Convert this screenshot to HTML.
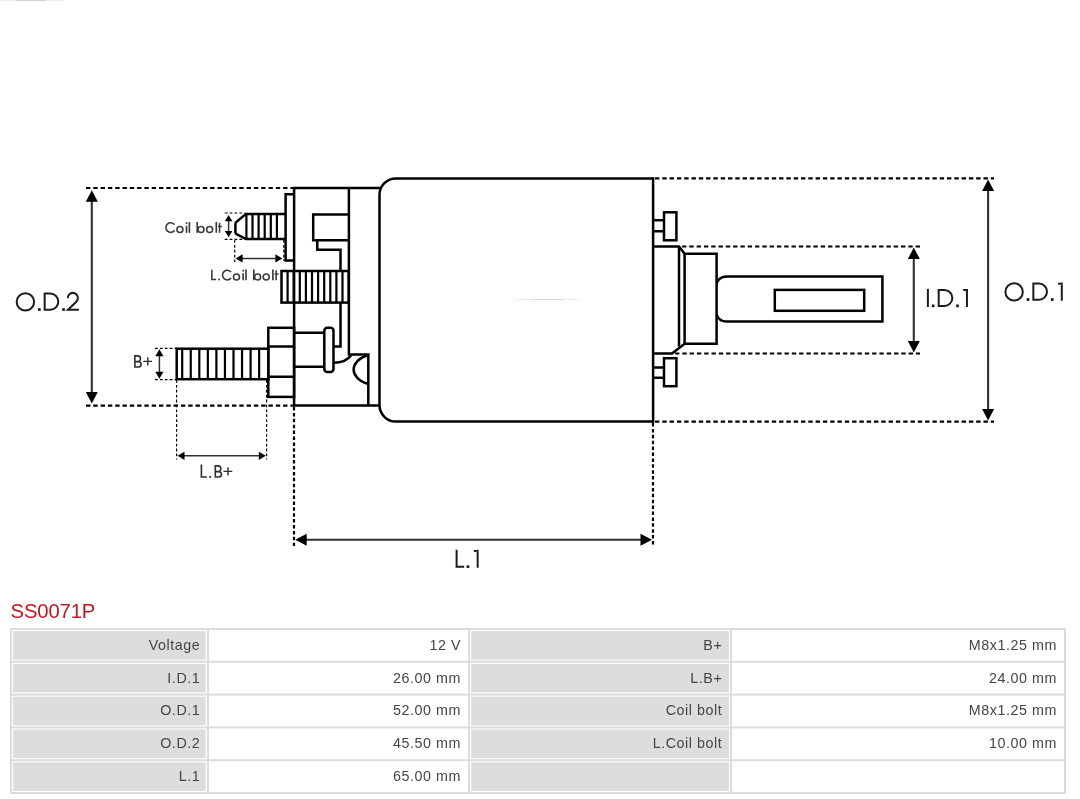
<!DOCTYPE html>
<html>
<head>
<meta charset="utf-8">
<title>SS0071P</title>
<style>
html,body{margin:0;padding:0;background:#fff;}
body{width:1080px;height:799px;position:relative;overflow:hidden;font-family:"Liberation Sans",sans-serif;}
#dia{position:absolute;left:0;top:0;width:1080px;height:799px;will-change:transform;}
</style>
</head>
<body>
<svg id="dia" width="1080" height="799" viewBox="0 0 1080 799">
<!--DS-->
<!-- faint artefact lines -->
<path d="M0 0.5 H64" stroke="#d8d8d8" stroke-width="1" stroke-dasharray="1 1" fill="none"/>
<path d="M16 0.5 H47" stroke="#d0d0d0" stroke-width="1" fill="none"/>
<path d="M516 299.5 H580" stroke="#dcdcdc" stroke-width="1" stroke-dasharray="1 1" fill="none"/>
<path d="M533 299.5 H563" stroke="#d6d6d6" stroke-width="1" fill="none"/>

<!-- thick dashed extension lines -->
<g fill="none" stroke="#000" stroke-width="2.2" stroke-dasharray="4.4 2.9">
<path d="M86 188 H293"/>
<path d="M86 405.6 H293"/>
<path d="M655 178.4 H994"/>
<path d="M655 421.6 H994"/>
<path d="M682 246.5 H920"/>
<path d="M675 353.5 H920"/>
</g>
<g fill="none" stroke="#000" stroke-width="2.2" stroke-dasharray="3.5 2.4">
<path d="M294 407 V546"/>
<path d="M653 423 V546"/>
</g>
<!-- thin dotted lines -->
<g fill="none" stroke="#000" stroke-width="1.2" stroke-dasharray="2.8 2.1">
<path d="M224.7 213 H245"/>
<path d="M224.7 239.4 H245"/>
<path d="M234.7 240 V262"/>
<path d="M283.8 240 V261"/>
<path d="M155 348.3 H176"/>
<path d="M155 379.6 H176"/>
<path d="M176.6 380 V459.5"/>
<path d="M266.6 380 V459.5"/>
</g>

<!-- main outlines -->
<g fill="none" stroke="#000" stroke-width="2.5" stroke-linejoin="miter" stroke-linecap="butt">
<path d="M653.1 177.2 V422.8"/>
<path d="M653.1 178.4 H396 A16.5 16.5 0 0 0 379.5 194.9 V405.1 A16.5 16.5 0 0 0 396 421.6 H653.1"/>
<!-- left box -->
<path d="M380 188 H294.1 V405.6 H380"/>
<path d="M348.9 188 V354.6 H368.3 V405.6"/>
<!-- plate -->
<path d="M294.1 194.2 H285.6 V260.4 H294.1"/>
<!-- coil bolt -->
<path d="M285.6 213.9 H246 L236.6 221.8 Q235.4 222.7 235.4 224.2 V231.9 Q235.4 233.4 236.6 234.1 L246 239 H285.6"/>
<path d="M246.4 213.9 V239 M252.5 213.9 V239 M258.6 213.9 V239 M264.7 213.9 V239 M270.8 213.9 V239 M276.9 213.9 V239" stroke-width="2.2"/>
<!-- inner rect + step -->
<path d="M348.9 214.4 H313.2 V240.3 H348.9"/>
<path d="M317.3 240.3 V249.7 H340.5 V271"/>
<!-- L coil thread block -->
<rect x="281.5" y="271" width="67.2" height="31.6"/>
<path d="M287.6 271 V302.6 M293.7 271 V302.6 M299.8 271 V302.6 M305.9 271 V302.6 M312 271 V302.6 M318.1 271 V302.6 M324.2 271 V302.6 M330.3 271 V302.6 M336.4 271 V302.6 M342.5 271 V302.6" stroke-width="2.2"/>
<!-- wire down -->
<path d="M340.5 302.6 V346.4 H333.4"/>
<!-- nut -->
<rect x="268.3" y="327.8" width="25.8" height="69.1"/>
<path d="M268.3 346.4 H294.1 M268.3 376.7 H294.1"/>
<!-- B+ bolt -->
<rect x="176.7" y="348.7" width="91.6" height="30.5"/>
<path d="M182.2 348.7 V379.2 M190.75 348.7 V379.2 M199.3 348.7 V379.2 M207.85 348.7 V379.2 M216.4 348.7 V379.2 M224.95 348.7 V379.2 M233.5 348.7 V379.2 M242.05 348.7 V379.2 M250.6 348.7 V379.2 M259.15 348.7 V379.2" stroke-width="2.2"/>
<!-- cylinder + flange -->
<path d="M294.1 332.7 H324.3 M294.1 366.7 H324.3"/>
<rect x="324.3" y="327.8" width="9.2" height="44.2" rx="3" ry="3"/>
<path d="M333.5 362.8 Q346 362.8 351.3 355"/>
<path d="M368.3 355 C358.5 358 353.6 364 353.6 369.6 C353.6 375.2 358.5 381 368.3 384"/>
<!-- right terminals -->
<path d="M653.1 220.2 H664 M653.1 231.3 H664"/>
<rect x="664" y="212.3" width="12.4" height="28"/>
<path d="M653.1 367.4 H664 M653.1 377.7 H664"/>
<rect x="664" y="358.2" width="12.4" height="28"/>
<!-- collar -->
<path d="M653.1 246.5 H679 L684.6 253.8 H716.6 V343.8 H684.6 L672 353.5 H653.1"/>
<path d="M679 246.5 V346.5 M684.6 253.8 V343.8"/>
<!-- shaft -->
<path d="M716.6 283.5 A10.6 10.6 0 0 1 726.5 276.5 H882.4 V321.6 H726.5 A10.6 10.6 0 0 1 716.6 314.6"/>
<rect x="774.8" y="289.9" width="89.4" height="20.9"/>
</g>

<!-- dimension arrows -->
<g fill="none" stroke="#303030" stroke-width="2.1">
<path d="M91.8 197 V397"/>
<path d="M988.1 187 V413"/>
<path d="M913.8 254 V345"/>
<path d="M302 539.8 H645"/>
</g>
<g fill="#000" stroke="none">
<path d="M0 0 L6 11.5 L-6 11.5 Z" transform="translate(91.8 190.2)"/>
<path d="M0 0 L6 11.5 L-6 11.5 Z" transform="translate(91.8 403.4) scale(1 -1)"/>
<path d="M0 0 L6 11.5 L-6 11.5 Z" transform="translate(988.1 179.6)"/>
<path d="M0 0 L6 11.5 L-6 11.5 Z" transform="translate(988.1 420.4) scale(1 -1)"/>
<path d="M0 0 L6 11.5 L-6 11.5 Z" transform="translate(913.8 247.6)"/>
<path d="M0 0 L6 11.5 L-6 11.5 Z" transform="translate(913.8 352.4) scale(1 -1)"/>
<path d="M0 0 L6 11.5 L-6 11.5 Z" transform="translate(295.2 539.8) rotate(-90)"/>
<path d="M0 0 L6 11.5 L-6 11.5 Z" transform="translate(652 539.8) rotate(90)"/>
</g>
<g fill="none" stroke="#333" stroke-width="1.5">
<path d="M228.6 219 V233"/>
<path d="M241 258.4 H277"/>
<path d="M159.4 354 V374"/>
<path d="M183 455.8 H260"/>
</g>
<g fill="#000" stroke="none">
<path d="M0 0 L3.8 6.2 L-3.8 6.2 Z" transform="translate(228.6 215.1)"/>
<path d="M0 0 L3.8 6.2 L-3.8 6.2 Z" transform="translate(228.6 237.2) scale(1 -1)"/>
<path d="M0 0 L4.1 7 L-4.1 7 Z" transform="translate(235.6 258.4) rotate(-90)"/>
<path d="M0 0 L4.1 7 L-4.1 7 Z" transform="translate(282.4 258.4) rotate(90)"/>
<path d="M0 0 L4.1 7 L-4.1 7 Z" transform="translate(159.4 349.3)"/>
<path d="M0 0 L4.1 7 L-4.1 7 Z" transform="translate(159.4 378.7) scale(1 -1)"/>
<path d="M0 0 L4.1 7 L-4.1 7 Z" transform="translate(177.5 455.8) rotate(-90)"/>
<path d="M0 0 L4.1 7 L-4.1 7 Z" transform="translate(265.8 455.8) rotate(90)"/>
</g>
<g stroke-linecap="butt" stroke-linejoin="miter">
<circle cx="25.40" cy="301.90" r="8.70" fill="none" stroke="#1c1c1c" stroke-width="2.0"/>
<rect x="38.00" y="308.20" width="2.70" height="2.70" fill="#1c1c1c"/>
<path d="M44.65 310.70 V292.60 M44.65 293.60 H50.25 A8.05 8.05 0 0 1 50.25 309.70 H44.65" fill="none" stroke="#1c1c1c" stroke-width="2.0"/>
<rect x="62.20" y="308.20" width="2.70" height="2.70" fill="#1c1c1c"/>
<path d="M67.70 298.18 A5.1 5.1 0 1 1 76.32 301.70 L67.90 309.70 H78.90" fill="none" stroke="#1c1c1c" stroke-width="2.0"/>
<circle cx="1014.10" cy="291.90" r="8.70" fill="none" stroke="#1c1c1c" stroke-width="2.0"/>
<rect x="1026.70" y="298.20" width="2.70" height="2.70" fill="#1c1c1c"/>
<path d="M1033.35 300.70 V282.60 M1033.35 283.60 H1038.95 A8.05 8.05 0 0 1 1038.95 299.70 H1033.35" fill="none" stroke="#1c1c1c" stroke-width="2.0"/>
<rect x="1050.90" y="298.20" width="2.70" height="2.70" fill="#1c1c1c"/>
<path d="M1058.00 283.80 L1062.80 283.60 M1061.80 282.60 V300.70" fill="none" stroke="#1c1c1c" stroke-width="2.0"/>
<path d="M927.90 288.90 V307.00" fill="none" stroke="#1c1c1c" stroke-width="2.0"/>
<rect x="931.80" y="304.50" width="2.70" height="2.70" fill="#1c1c1c"/>
<path d="M938.70 307.00 V288.90 M938.70 289.90 H944.30 A8.05 8.05 0 0 1 944.30 306.00 H938.70" fill="none" stroke="#1c1c1c" stroke-width="2.0"/>
<rect x="956.10" y="304.50" width="2.70" height="2.70" fill="#1c1c1c"/>
<path d="M963.15 290.10 L967.95 289.90 M966.95 288.90 V307.00" fill="none" stroke="#1c1c1c" stroke-width="2.0"/>
<path d="M456.60 549.70 V566.80 H464.20" fill="none" stroke="#1c1c1c" stroke-width="2.0"/>
<rect x="466.60" y="565.30" width="2.70" height="2.70" fill="#1c1c1c"/>
<path d="M473.85 550.90 L478.65 550.70 M477.65 549.70 V567.80" fill="none" stroke="#1c1c1c" stroke-width="2.0"/>
<path d="M174.48 224.64 A4.8 4.8 0 1 0 174.48 230.56" fill="none" stroke="#3a3a3a" stroke-width="1.55"/>
<circle cx="179.90" cy="229.40" r="3.00" fill="none" stroke="#3a3a3a" stroke-width="1.55"/>
<path d="M186.50 225.70 V232.80" fill="none" stroke="#3a3a3a" stroke-width="1.6500000000000001"/>
<rect x="185.70" y="222.30" width="1.65" height="1.70" fill="#3a3a3a"/>
<path d="M189.40 222.00 V232.80" fill="none" stroke="#3a3a3a" stroke-width="1.6500000000000001"/>
<path d="M197.20 222.00 V232.80" fill="none" stroke="#3a3a3a" stroke-width="1.6500000000000001"/>
<circle cx="201.00" cy="229.40" r="3.00" fill="none" stroke="#3a3a3a" stroke-width="1.55"/>
<circle cx="209.60" cy="229.40" r="3.00" fill="none" stroke="#3a3a3a" stroke-width="1.55"/>
<path d="M216.30 222.00 V232.80" fill="none" stroke="#3a3a3a" stroke-width="1.6500000000000001"/>
<path d="M219.55 222.80 V232.80 M218.00 226.40 H221.90" fill="none" stroke="#3a3a3a" stroke-width="1.55"/>
<path d="M231.08 272.14 A4.8 4.8 0 1 0 231.08 278.06" fill="none" stroke="#3a3a3a" stroke-width="1.55"/>
<circle cx="236.50" cy="276.90" r="3.00" fill="none" stroke="#3a3a3a" stroke-width="1.55"/>
<path d="M243.10 273.20 V280.30" fill="none" stroke="#3a3a3a" stroke-width="1.6500000000000001"/>
<rect x="242.30" y="269.80" width="1.65" height="1.70" fill="#3a3a3a"/>
<path d="M246.00 269.50 V280.30" fill="none" stroke="#3a3a3a" stroke-width="1.6500000000000001"/>
<path d="M253.80 269.50 V280.30" fill="none" stroke="#3a3a3a" stroke-width="1.6500000000000001"/>
<circle cx="257.60" cy="276.90" r="3.00" fill="none" stroke="#3a3a3a" stroke-width="1.55"/>
<circle cx="266.20" cy="276.90" r="3.00" fill="none" stroke="#3a3a3a" stroke-width="1.55"/>
<path d="M272.90 269.50 V280.30" fill="none" stroke="#3a3a3a" stroke-width="1.6500000000000001"/>
<path d="M276.15 270.30 V280.30 M274.60 273.90 H278.50" fill="none" stroke="#3a3a3a" stroke-width="1.55"/>
<path d="M211.85 269.7 V279.4 H216.1" fill="none" stroke="#3a3a3a" stroke-width="1.55"/>
<rect x="218.20" y="278.60" width="1.70" height="1.70" fill="#3a3a3a"/>
<path d="M134.90 367.80 V355.10 M134.90 355.90 H137.60 A2.85 2.85 0 0 1 137.60 361.60 H134.90 M137.60 361.60 H138.40 A2.70 2.70 0 0 1 138.40 367.00 H134.90" fill="none" stroke="#2e2e2e" stroke-width="1.6"/>
<path d="M143.30 361.40 H152.10 M147.80 357.30 V365.50" fill="none" stroke="#2e2e2e" stroke-width="1.4000000000000001"/>
<path d="M201.4 464.40 V477.00 H206.9" fill="none" stroke="#2e2e2e" stroke-width="1.6"/>
<rect x="209.20" y="476.00" width="1.90" height="1.80" fill="#2e2e2e"/>
<path d="M215.30 477.80 V465.10 M215.30 465.90 H218.00 A2.85 2.85 0 0 1 218.00 471.60 H215.30 M218.00 471.60 H218.80 A2.70 2.70 0 0 1 218.80 477.00 H215.30" fill="none" stroke="#2e2e2e" stroke-width="1.6"/>
<path d="M223.50 471.40 H232.30 M228.00 467.30 V475.50" fill="none" stroke="#2e2e2e" stroke-width="1.4000000000000001"/>
</g>

<!-- title -->
<text x="10.6" y="617.8" font-family="'Liberation Sans', sans-serif" font-size="20.3" fill="#c5161d" letter-spacing="-0.15">SS0071P</text>
<!-- table -->
<rect x="13.1" y="631.10" width="192.50" height="28.60" fill="#dddddd"/>
<rect x="471.2" y="631.10" width="257.70" height="28.60" fill="#dddddd"/>
<rect x="13.1" y="663.90" width="192.50" height="28.60" fill="#dddddd"/>
<rect x="471.2" y="663.90" width="257.70" height="28.60" fill="#dddddd"/>
<rect x="13.1" y="696.70" width="192.50" height="28.60" fill="#dddddd"/>
<rect x="471.2" y="696.70" width="257.70" height="28.60" fill="#dddddd"/>
<rect x="13.1" y="729.50" width="192.50" height="28.60" fill="#dddddd"/>
<rect x="471.2" y="729.50" width="257.70" height="28.60" fill="#dddddd"/>
<rect x="13.1" y="762.30" width="192.50" height="28.60" fill="#dddddd"/>
<rect x="471.2" y="762.30" width="257.70" height="28.60" fill="#dddddd"/>
<rect x="10" y="628.00" width="1056" height="2" fill="#dcdcdc"/>
<rect x="10" y="660.80" width="1056" height="2" fill="#dcdcdc"/>
<rect x="10" y="693.60" width="1056" height="2" fill="#dcdcdc"/>
<rect x="10" y="726.40" width="1056" height="2" fill="#dcdcdc"/>
<rect x="10" y="759.20" width="1056" height="2" fill="#dcdcdc"/>
<rect x="10" y="792.00" width="1056" height="2" fill="#dcdcdc"/>
<rect x="10" y="628" width="2" height="166" fill="#dcdcdc"/>
<rect x="207" y="628" width="2" height="166" fill="#dcdcdc"/>
<rect x="468" y="628" width="2" height="166" fill="#dcdcdc"/>
<rect x="730" y="628" width="2" height="166" fill="#dcdcdc"/>
<rect x="1064" y="628" width="2" height="166" fill="#dcdcdc"/>
<g font-family="'Liberation Sans', sans-serif" font-size="14.3" fill="#454545" text-anchor="end" letter-spacing="0.55">
<text x="200.3" y="649.70">Voltage</text>
<text x="461" y="649.70">12 V</text>
<text x="722.3" y="649.70">B+</text>
<text x="1057" y="649.70">M8x1.25 mm</text>
<text x="200.3" y="682.55">I.D.1</text>
<text x="461" y="682.55">26.00 mm</text>
<text x="722.3" y="682.55">L.B+</text>
<text x="1057" y="682.55">24.00 mm</text>
<text x="200.3" y="715.40">O.D.1</text>
<text x="461" y="715.40">52.00 mm</text>
<text x="722.3" y="715.40">Coil bolt</text>
<text x="1057" y="715.40">M8x1.25 mm</text>
<text x="200.3" y="748.25">O.D.2</text>
<text x="461" y="748.25">45.50 mm</text>
<text x="722.3" y="748.25">L.Coil bolt</text>
<text x="1057" y="748.25">10.00 mm</text>
<text x="200.3" y="781.10">L.1</text>
<text x="461" y="781.10">65.00 mm</text>
</g>
<!--DE-->
</svg>
</body>
</html>
